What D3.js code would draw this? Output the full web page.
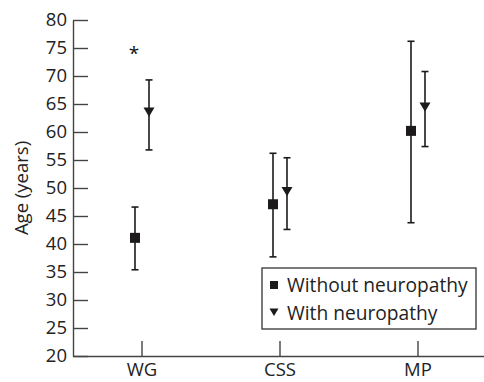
<!DOCTYPE html>
<html>
<head>
<meta charset="utf-8">
<script src="https://cdn.jsdelivr.net/npm/d3@7"></script>
<style>
  body { margin: 0; background: #fff; }
  svg text { font-family: "Open Sans", Lato, sans-serif; fill: #222; }
</style>
</head>
<body>
<div id="chart"></div>
<script>
// groups on the x axis
var groups = ["WG", "CSS", "MP"];
// without neuropathy: mean, lower, upper
var withoutMean = [41.1, 47.1, 60.2];
var withoutLow = [35.4, 37.7, 43.8];
var withoutHigh = [46.6, 56.2, 76.2];
// with neuropathy: mean, lower, upper
var withMean = [63.6, 49.4, 64.5];
var withLow = [56.8, 42.6, 57.4];
var withHigh = [69.3, 55.4, 70.8];
var yTicks = [20, 25, 30, 35, 40, 45, 50, 55, 60, 65, 70, 75, 80];
var seriesNames = ["Without neuropathy", "With neuropathy"];

var width = 484, height = 382,
	margin = {top: 20, left: 73, bottom: 26};

var svg = d3.select("#chart").append("svg")
	.attr("width", width)
	.attr("height", height);

var x = d3.scaleBand()
	.domain(groups)
	.range([margin.left, 487]);

var y = d3.scaleLinear()
	.domain([20, 80])
	.range([height - margin.bottom, margin.top]);

var yAxis = d3.axisLeft(y)
	.tickValues(yTicks)
	.tickSizeInner(-15)
	.tickSizeOuter(0)
	.tickPadding(6);

var xAxis = d3.axisBottom(x)
	.tickSizeInner(-15)
	.tickSizeOuter(0)
	.tickPadding(5);

var gy = svg.append("g")
	.attr("transform", "translate(" + margin.left + ",0)")
	.call(yAxis);

var gx = svg.append("g")
	.attr("transform", "translate(0," + y(20) + ")")
	.call(xAxis);

[gx, gy].forEach(function(g) {
	g.selectAll("path, line").attr("stroke", "#444").attr("stroke-width", 1.4);
	g.selectAll("text").style("font-size", "18.5px").attr("fill", "#222");
});
gx.selectAll("text").attr("dy", "0.82em");

svg.append("text")
	.attr("transform", "translate(28," + ((y(20) + y(80)) / 2) + ") rotate(-90)")
	.attr("text-anchor", "middle")
	.style("font-size", "18.5px")
	.text("Age (years)");

var rows = groups.map(function(g, i) {
	return {
		group: g,
		without: {m: withoutMean[i], lo: withoutLow[i], hi: withoutHigh[i]},
		with: {m: withMean[i], lo: withLow[i], hi: withHigh[i]}
	};
});

var offset = 7, cap = 3.5;
var ink = "#1c1a1a";

function errorBar(sel, key, dx) {
	sel.append("line")
		.attr("x1", function(d) { return x(d.group) + x.bandwidth() / 2 + dx; })
		.attr("x2", function(d) { return x(d.group) + x.bandwidth() / 2 + dx; })
		.attr("y1", function(d) { return y(d[key].lo); })
		.attr("y2", function(d) { return y(d[key].hi); })
		.attr("stroke", ink).attr("stroke-width", 1.6);
	["lo", "hi"].forEach(function(end) {
		sel.append("line")
			.attr("x1", function(d) { return x(d.group) + x.bandwidth() / 2 + dx - cap; })
			.attr("x2", function(d) { return x(d.group) + x.bandwidth() / 2 + dx + cap; })
			.attr("y1", function(d) { return y(d[key][end]); })
			.attr("y2", function(d) { return y(d[key][end]); })
			.attr("stroke", ink).attr("stroke-width", 1.6);
	});
}

var g = svg.selectAll(".grp")
	.data(rows)
	.enter().append("g")
	.attr("class", "grp");

errorBar(g, "without", -offset);
errorBar(g, "with", offset);

var sq = d3.symbol().type(d3.symbolSquare).size(100);
var tri = function(s) {
	// downward pointing triangle, centred
	return "M" + (-s) + "," + (-s * 0.8) + "L" + s + "," + (-s * 0.8) + "L0," + (s * 0.9) + "Z";
};

g.append("path")
	.attr("d", sq())
	.attr("transform", function(d) { return "translate(" + (x(d.group) + x.bandwidth() / 2 - offset) + "," + y(d.without.m) + ")"; })
	.attr("fill", ink);

g.append("path")
	.attr("d", tri(5.5))
	.attr("transform", function(d) { return "translate(" + (x(d.group) + x.bandwidth() / 2 + offset) + "," + y(d.with.m) + ")"; })
	.attr("fill", ink);

// significance star for WG
svg.append("text")
	.attr("x", x("WG") + x.bandwidth() / 2 - 8)
	.attr("y", y(75) + 12)
	.attr("text-anchor", "middle")
	.style("font-size", "19px")
	.style("fill", "#111")
	.text("*");

// legend
var legend = svg.append("g").attr("transform", "translate(262,268)");
legend.append("rect")
	.attr("width", 214).attr("height", 61)
	.attr("fill", "#fff").attr("stroke", "#333").attr("stroke-width", 1.3);

legend.append("path")
	.attr("d", d3.symbol().type(d3.symbolSquare).size(64)())
	.attr("transform", "translate(12,17)")
	.attr("fill", ink);
legend.append("path")
	.attr("d", tri(4.5))
	.attr("transform", "translate(12,44)")
	.attr("fill", ink);

legend.selectAll(".lt")
	.data(seriesNames)
	.enter().append("text")
	.attr("x", 25)
	.attr("y", function(d, i) { return 24 + i * 28; })
	.style("font-size", "19.2px")
	.text(function(d) { return d; });
</script>
</body>
</html>
